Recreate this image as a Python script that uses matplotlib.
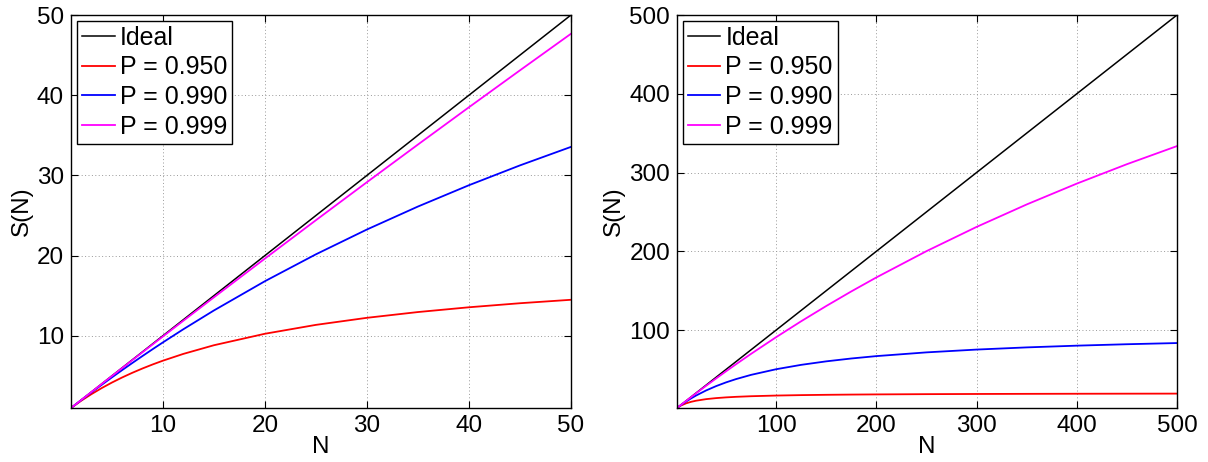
"""Speedup S(N) versus processor count N for several parallel fractions P."""

import matplotlib

matplotlib.use("Agg")
import matplotlib.pyplot as plt

plt.rcParams["font.family"] = ["Liberation Sans", "DejaVu Sans"]
plt.rcParams["font.size"] = 17.5

LABELS = ["P = 0.950", "P = 0.990", "P = 0.999"]
COLORS = ["#ff0000", "#0000ff", "#ff00ff"]

# left panel: N up to 50
n_small = [1, 2, 3, 4, 5, 6, 7, 8, 9, 10, 12, 15, 20, 25, 30, 35, 40, 45, 50]
s950_small = [1.0, 1.905, 2.727, 3.478, 4.167, 4.8, 5.385, 5.926, 6.429, 6.897, 7.742,
              8.824, 10.256, 11.364, 12.245, 12.963, 13.559, 14.063, 14.493]
s990_small = [1.0, 1.980, 2.941, 3.883, 4.808, 5.714, 6.604, 7.477, 8.333, 9.174, 10.811,
              13.158, 16.807, 20.161, 23.256, 26.119, 28.777, 31.25, 33.557]
s999_small = [1.0, 1.998, 2.994, 3.988, 4.980, 5.970, 6.958, 7.944, 8.928, 9.911, 11.869,
              14.793, 19.627, 24.414, 29.155, 33.849, 38.499, 43.103, 47.664]

# right panel: N up to 500
n_large = [1, 2, 3, 5, 10, 15, 20, 30, 40, 50, 60, 75, 100, 125, 150, 175, 200,
           250, 300, 350, 400, 450, 500]
s950_large = [1.0, 1.905, 2.727, 4.167, 6.897, 8.824, 10.256, 12.245, 13.559, 14.493,
              15.19, 15.957, 16.807, 17.361, 17.751, 18.041, 18.265, 18.587, 18.809,
              18.970, 19.093, 19.190, 19.268]
s990_large = [1.0, 1.980, 2.941, 4.808, 9.174, 13.158, 16.807, 23.256, 28.777, 33.557,
              37.736, 43.103, 50.251, 55.804, 60.241, 63.869, 66.890, 71.633, 75.188,
              77.951, 80.160, 81.967, 83.472]
s999_large = [1.0, 1.998, 2.994, 4.980, 9.911, 14.793, 19.627, 29.155, 38.499, 47.664,
              56.657, 69.832, 90.992, 111.21, 130.548, 149.06, 166.806, 200.16, 230.947,
              259.45, 285.918, 310.56, 333.556]

ticks_small = [10, 20, 30, 40, 50]
ticks_large = [100, 200, 300, 400, 500]


def draw(ax, n, series, nmax, ticks):
    ax.plot([1, nmax], [1, nmax], color="black", lw=1.1, label="Ideal")
    for s, lab, col in zip(series, LABELS, COLORS):
        ax.plot(n, s, color=col, lw=1.3, label=lab)
    ax.set_xlim(1, nmax)
    ax.set_ylim(1, nmax)
    ax.set_xticks(ticks)
    ax.set_yticks(ticks)
    ax.tick_params(direction="in", length=5, width=0.8, top=True, right=True, pad=5)
    ax.grid(True, linestyle=(0, (1, 2.5)), color="#999999", lw=0.7)
    for sp in ax.spines.values():
        sp.set_linewidth(1.0)
    ax.set_xlabel("N", labelpad=-1)
    ax.set_ylabel("S(N)", labelpad=3)
    leg = ax.legend(loc="upper left", fancybox=False, framealpha=1, edgecolor="black",
                    borderaxespad=0.24, handlelength=1.3, handletextpad=0.2,
                    labelspacing=0.22, borderpad=0.2, fontsize=18)
    leg.get_frame().set_linewidth(1.0)


fig = plt.figure(figsize=(12.08, 4.62), dpi=100)
ax1 = fig.add_axes([71 / 1208, 1 - 408 / 462, 500 / 1208, 393 / 462])
ax2 = fig.add_axes([677 / 1208, 1 - 408 / 462, 500 / 1208, 393 / 462])
draw(ax1, n_small, [s950_small, s990_small, s999_small], 50, ticks_small)
draw(ax2, n_large, [s950_large, s990_large, s999_large], 500, ticks_large)
fig.savefig("out.png", dpi=100)
